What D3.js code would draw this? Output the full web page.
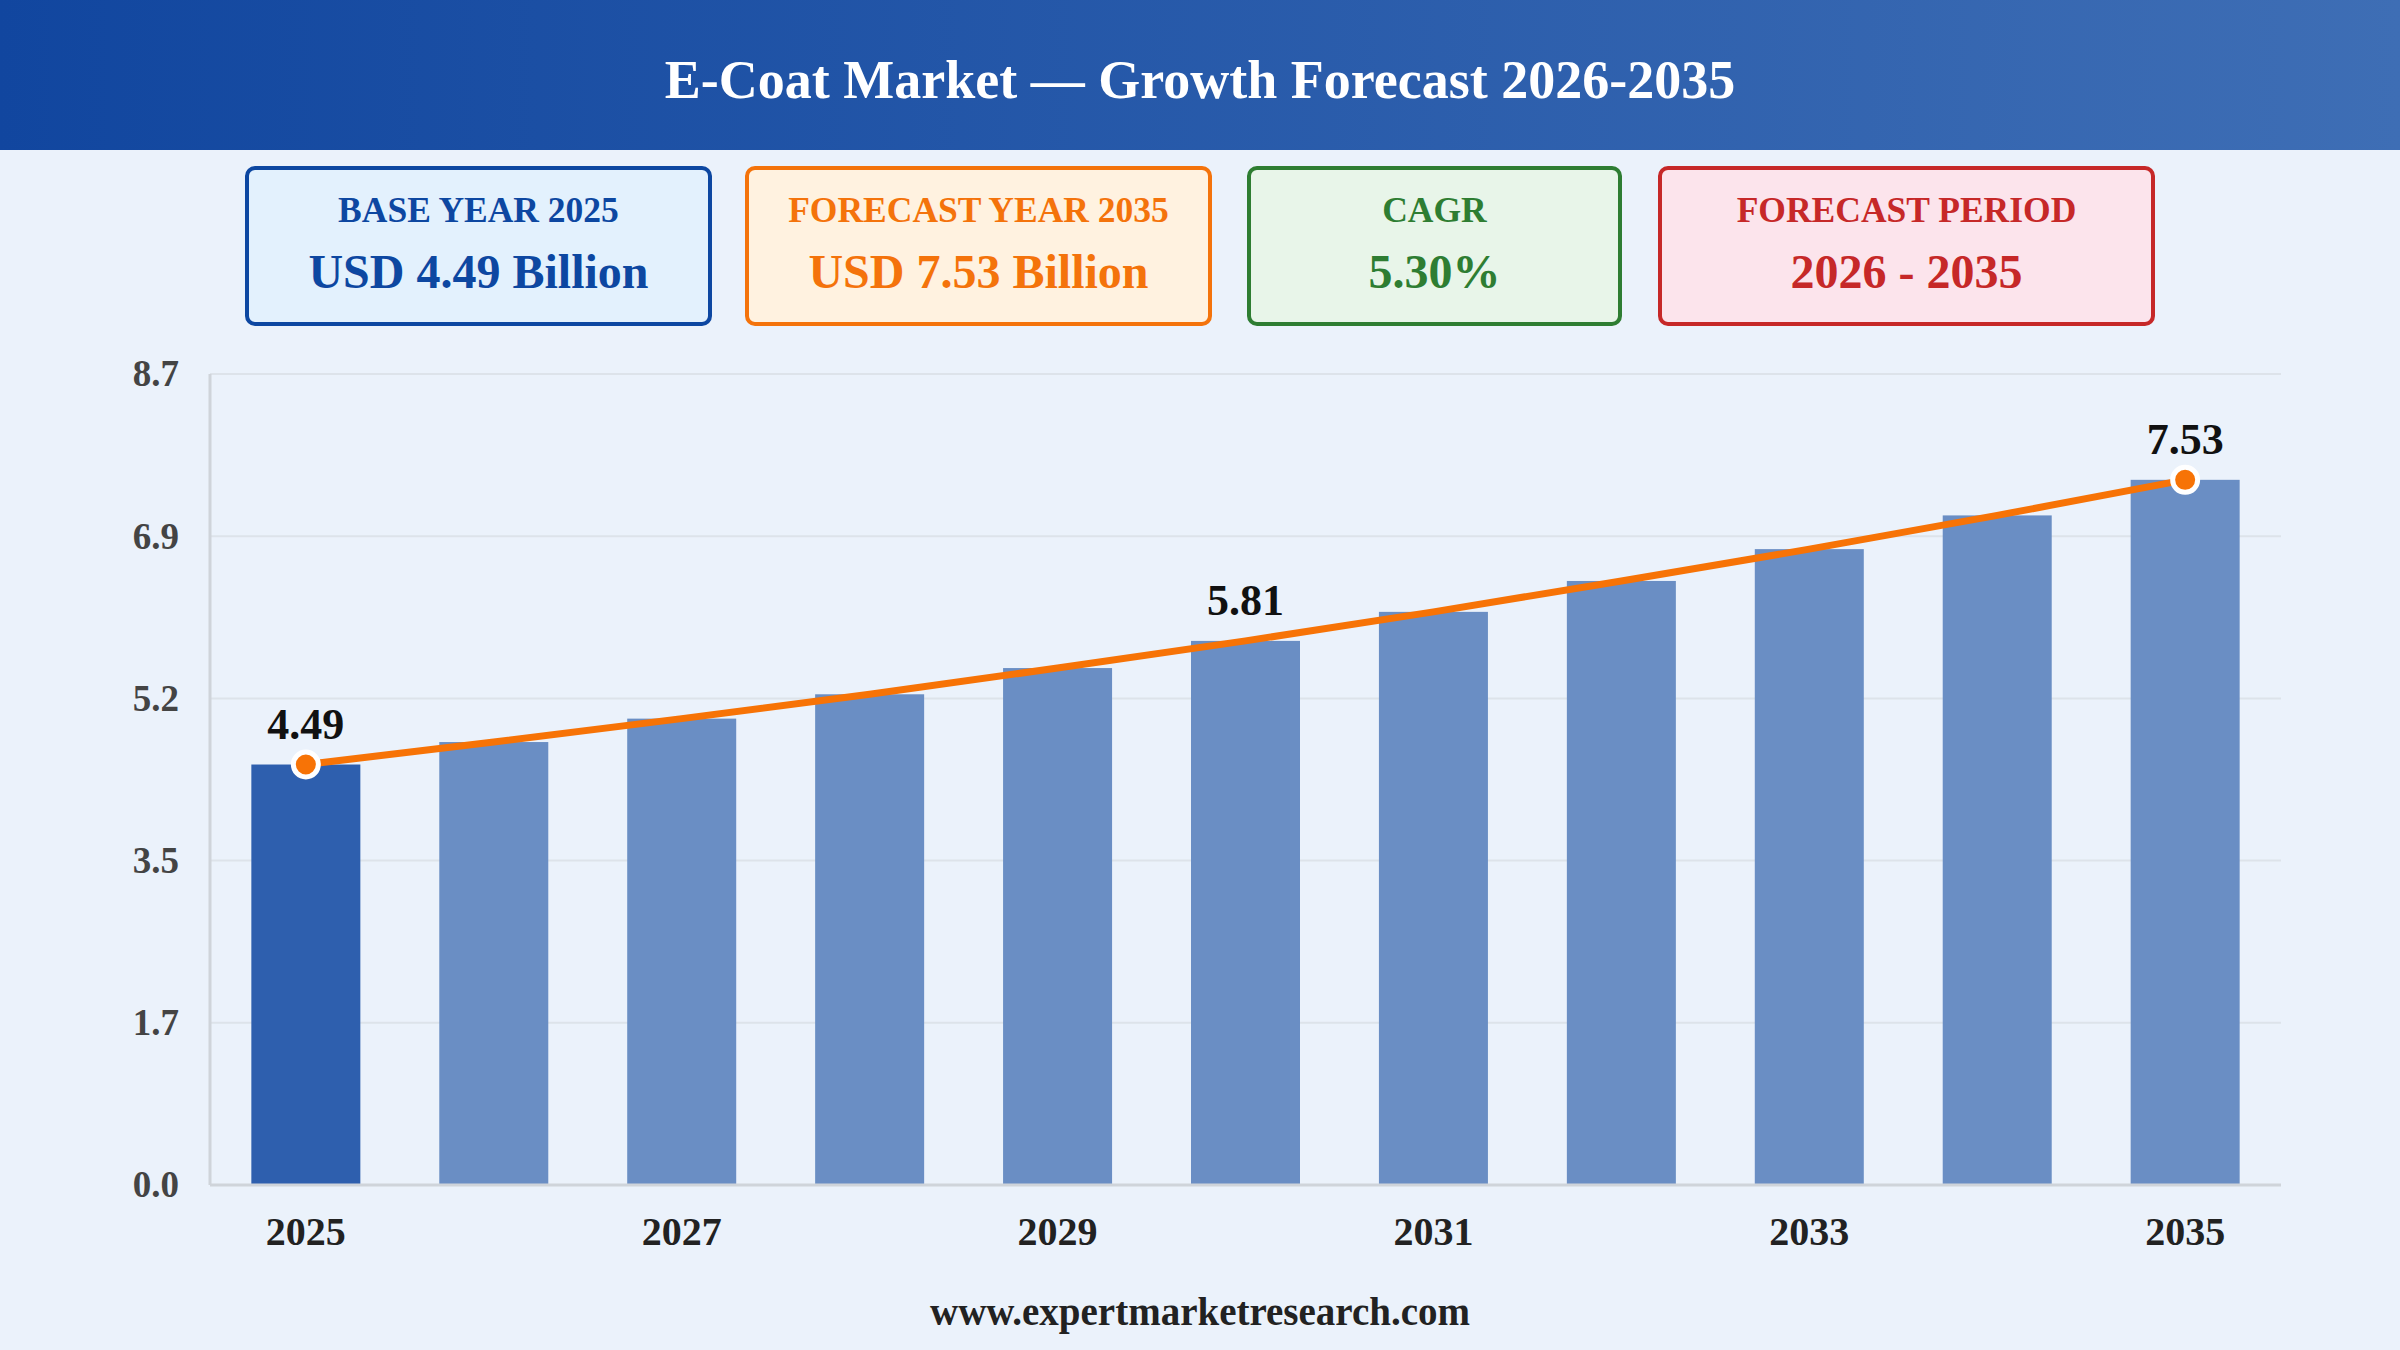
<!DOCTYPE html>
<html>
<head>
<meta charset="utf-8">
<script src="https://cdn.jsdelivr.net/npm/d3@7"></script>
<style>
  body { margin: 0; background: #ebf2fb; }
  svg { display: block; }
</style>
</head>
<body>
<div id="chart"></div>
<script>
// data
const years = [2025, 2026, 2027, 2028, 2029, 2030, 2031, 2032, 2033, 2034, 2035];
const marketSize = [4.49, 4.73, 4.98, 5.24, 5.52, 5.81, 6.12, 6.45, 6.79, 7.15, 7.53];
const labelledYears = [2025, 2030, 2035];
const markedYears = [2025, 2035];
const yMax = 8.66;
const yTicks = [0, 1.732, 3.464, 5.196, 6.928, 8.66];

const cardTitles = ['BASE YEAR 2025', 'FORECAST YEAR 2035', 'CAGR', 'FORECAST PERIOD'];
const cardValues = ['USD 4.49 Billion', 'USD 7.53 Billion', '5.30%', '2026 - 2035'];
const cardColors = ['#0d47a1', '#f4730b', '#2e7d32', '#c62828'];
const cardFills = ['#e3f1fd', '#fff2e0', '#e8f5e9', '#fce4ec'];

const W = 2400, H = 1350;
const FONT = "'Liberation Serif', 'Times New Roman', serif";

const svg = d3.select('#chart').append('svg')
    .attr('width', W)
    .attr('height', H)
    .style('font-family', FONT);

svg.append('rect').attr('width', W).attr('height', H).attr('fill', '#ebf2fb');

// header band
const grad = svg.append('defs').append('linearGradient')
    .attr('id', 'hdr').attr('x1', '0%').attr('x2', '100%');
grad.append('stop').attr('offset', '0%').attr('stop-color', '#11469f');
grad.append('stop').attr('offset', '100%').attr('stop-color', '#3e6eb5');
svg.append('rect').attr('width', W).attr('height', 150).attr('fill', 'url(#hdr)');
svg.append('text')
    .attr('x', W / 2).attr('y', 98)
    .attr('text-anchor', 'middle')
    .style('font-size', '54px').style('font-weight', 'bold')
    .attr('fill', '#fff')
    .text('E-Coat Market \u2014 Growth Forecast 2026-2035');

// summary cards
const cardX = [245, 745, 1247, 1658];
const cardW = [467, 467, 375, 497];
const cards = svg.append('g').attr('class', 'cards')
    .selectAll('g')
    .data(cardTitles)
    .enter().append('g')
    .attr('transform', (d, i) => `translate(${cardX[i]},166)`);
cards.append('rect')
    .attr('x', 2).attr('y', 2)
    .attr('width', (d, i) => cardW[i] - 4).attr('height', 156)
    .attr('rx', 8)
    .attr('fill', (d, i) => cardFills[i])
    .attr('stroke', (d, i) => cardColors[i])
    .attr('stroke-width', 4);
cards.append('text')
    .attr('x', (d, i) => cardW[i] / 2).attr('y', 56)
    .attr('text-anchor', 'middle')
    .style('font-size', '35.5px').style('font-weight', 'bold')
    .attr('fill', (d, i) => cardColors[i])
    .text(d => d);
cards.append('text')
    .attr('x', (d, i) => cardW[i] / 2).attr('y', 122)
    .attr('text-anchor', 'middle')
    .style('font-size', '48px').style('font-weight', 'bold')
    .attr('fill', (d, i) => cardColors[i])
    .text((d, i) => cardValues[i]);

// chart area
const plot = { left: 210, right: 2281, top: 374, bottom: 1185 };

const x = d3.scaleBand()
    .domain(years)
    .range([plot.left, plot.right])
    .paddingInner(0.42)
    .paddingOuter(0.22);
const y = d3.scaleLinear()
    .domain([0, yMax])
    .range([plot.bottom, plot.top]);

// gridlines
svg.append('g').attr('class', 'grid')
    .selectAll('line')
    .data(yTicks.slice(1))
    .enter().append('line')
    .attr('x1', plot.left).attr('x2', plot.right)
    .attr('y1', d => y(d)).attr('y2', d => y(d))
    .style('stroke', '#dde3ea')
    .style('stroke-width', '2px');

// y axis
const yAxis = svg.append('g')
    .attr('transform', `translate(${plot.left},0)`)
    .call(d3.axisLeft(y).tickValues(yTicks).tickFormat(d3.format('.1f')).tickSize(0).tickPadding(31));
yAxis.select('.domain').remove();
yAxis.selectAll('text')
    .style('font-family', FONT)
    .style('font-size', '37px')
    .style('font-weight', 'bold')
    .attr('fill', '#444');

// bars
svg.append('g').attr('class', 'bars')
    .selectAll('rect')
    .data(years)
    .enter().append('rect')
    .attr('x', d => x(d))
    .attr('width', x.bandwidth())
    .attr('y', (d, i) => y(marketSize[i]))
    .attr('height', (d, i) => y(0) - y(marketSize[i]))
    .attr('fill', (d, i) => i === 0 ? '#2e5fae' : '#6a8ec4');

// axis lines
svg.append('line')
    .attr('x1', plot.left).attr('x2', plot.left)
    .attr('y1', plot.top).attr('y2', plot.bottom)
    .style('stroke', '#cfd4da').style('stroke-width', '3px');
svg.append('line')
    .attr('x1', plot.left).attr('x2', plot.right)
    .attr('y1', plot.bottom).attr('y2', plot.bottom)
    .style('stroke', '#cfd4da').style('stroke-width', '3px');

// x axis labels, every other year
const xAxis = svg.append('g')
    .attr('transform', `translate(0,${plot.bottom})`)
    .call(d3.axisBottom(x).tickValues(years.filter((d, i) => i % 2 === 0)).tickSize(0).tickPadding(32));
xAxis.select('.domain').remove();
xAxis.selectAll('text')
    .style('font-family', FONT)
    .style('font-size', '40px')
    .style('font-weight', 'bold')
    .attr('fill', '#222');

// trend line
const pts = years.map((d, i) => ({ year: d, v: marketSize[i] }));
const line = d3.line()
    .x(d => x(d.year) + x.bandwidth() / 2)
    .y(d => y(d.v));
svg.append('path')
    .datum(pts)
    .attr('d', line)
    .attr('fill', 'none')
    .style('stroke', '#f77306')
    .style('stroke-width', '7px')
    .style('stroke-linecap', 'round');

svg.append('g').attr('class', 'markers')
    .selectAll('circle')
    .data(pts.filter(d => markedYears.includes(d.year)))
    .enter().append('circle')
    .attr('cx', d => x(d.year) + x.bandwidth() / 2)
    .attr('cy', d => y(d.v))
    .attr('r', 12.5)
    .attr('fill', '#f77306')
    .style('stroke', '#fff')
    .style('stroke-width', '5px');

svg.append('g').attr('class', 'valueLabels')
    .selectAll('text')
    .data(pts.filter(d => labelledYears.includes(d.year)))
    .enter().append('text')
    .attr('x', d => x(d.year) + x.bandwidth() / 2)
    .attr('y', d => y(d.v) - 26)
    .attr('text-anchor', 'middle')
    .style('font-size', '44px')
    .style('font-weight', 'bold')
    .attr('fill', '#111')
    .text(d => d.v.toFixed(2));

// footer
svg.append('text')
    .attr('x', W / 2).attr('y', 1325)
    .attr('text-anchor', 'middle')
    .style('font-size', '39px')
    .style('font-weight', 'bold')
    .attr('fill', '#222')
    .text('www.expertmarketresearch.com');
</script>
</body>
</html>
